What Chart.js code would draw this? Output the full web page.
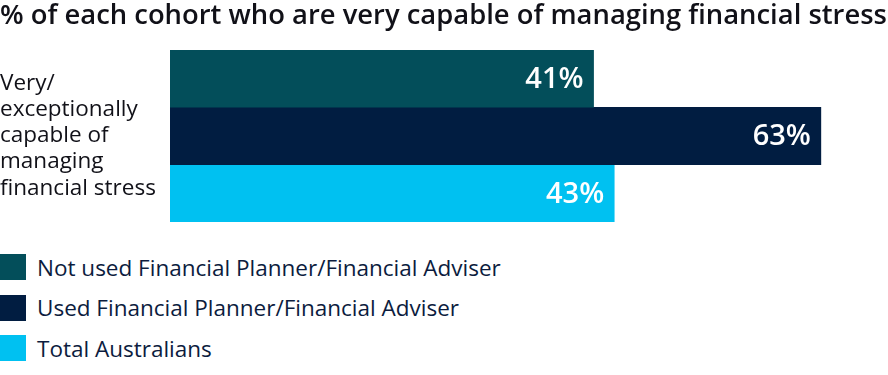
<!DOCTYPE html>
<html>
<head>
<meta charset="utf-8">
<script src="https://cdn.jsdelivr.net/npm/chart.js@4.4.1/dist/chart.umd.min.js"></script>
<style>
  body { margin: 0; background: #fff; font-family: "Open Sans", sans-serif; }
  #wrap { width: 888px; height: 236px; position: relative; }
  #legenda { margin-top: 18px; }
  .leg-item { display: flex; align-items: center; height: 26px; margin-bottom: 14.5px; }
  .leg-box { width: 26px; height: 26px; margin-right: 11px; }
  .leg-txt { font-size: 22.5px; color: #0c1c3e; font-weight: 500; }
</style>
</head>
<body>
<div id="wrap"><canvas id="grafico"></canvas></div>
<div id="legenda"></div>
<script>
// ===== DADOS =====
const categorias = [["Very/", "exceptionally", "capable of", "managing", "financial stress"]];
const series = ["Not used Financial Planner/Financial Adviser", "Used Financial Planner/Financial Adviser", "Total Australians"];
const valoresNaoUsou = [41];
const valoresUsou = [63];
const valoresTotal = [43];
const cores = ["#034e5a", "#011d41", "#00c1f1"];
const titulo = "% of each cohort who are very capable of managing financial stress";

// ===== RÓTULOS NAS BARRAS =====
const rotulosPlugin = {
  id: "rotulos",
  afterDatasetsDraw(chart) {
    const ctx = chart.ctx;
    ctx.save();
    ctx.fillStyle = "#ffffff";
    ctx.font = "600 29px 'Open Sans'";
    ctx.textAlign = "right";
    ctx.textBaseline = "middle";
    chart.data.datasets.forEach((ds, i) => {
      chart.getDatasetMeta(i).data.forEach((bar, j) => {
        ctx.fillText(ds.data[j] + "%", bar.x - 10, bar.y + 1);
      });
    });
    ctx.restore();
  }
};

const dados = [valoresNaoUsou, valoresUsou, valoresTotal];

new Chart(document.getElementById("grafico"), {
  type: "bar",
  data: {
    labels: categorias,
    datasets: series.map((nome, i) => ({
      label: nome,
      data: dados[i],
      backgroundColor: cores[i],
      categoryPercentage: 1,
      barPercentage: 1,
    }))
  },
  options: {
    indexAxis: "y",
    responsive: true,
    maintainAspectRatio: false,
    animation: false,
    layout: { padding: { top: 0, bottom: 14, left: 0, right: 0 } },
    plugins: {
      legend: { display: false },
      tooltip: { enabled: false },
      title: {
        display: true,
        text: titulo,
        align: "start",
        color: "#111118",
        font: { family: "Open Sans", size: 27.4, weight: "600", lineHeight: 1.2 },
        padding: { top: 0, bottom: 17 },
      },
    },
    scales: {
      x: { display: false, min: 0, max: 69.5 },
      y: {
        grid: { display: false },
        border: { display: false },
        ticks: {
          crossAlign: "far",
          color: "#111118",
          padding: 0,
          font: { family: "Open Sans", size: 22.5, weight: "500", lineHeight: 1.16 },
        },
        afterFit: (axis) => {
          axis.width = 170;
          axis.paddingTop = 0;
          axis.paddingBottom = 0;
        },
      },
    },
  },
  plugins: [rotulosPlugin],
});

// ===== LEGENDA =====
const legenda = document.getElementById("legenda");
series.forEach((nome, i) => {
  const item = document.createElement("div");
  item.className = "leg-item";
  item.innerHTML = `<div class="leg-box" style="background:${cores[i]}"></div><div class="leg-txt">${nome}</div>`;
  legenda.appendChild(item);
});
</script>
</body>
</html>
